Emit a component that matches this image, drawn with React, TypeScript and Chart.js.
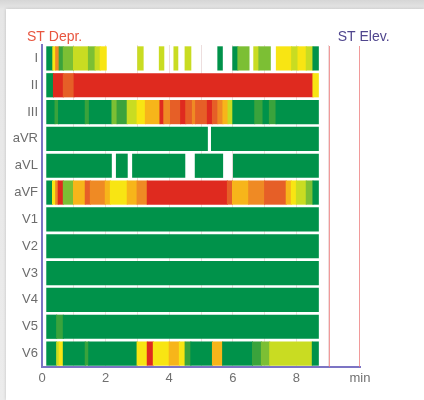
import React, { useEffect, useRef } from 'react';
import { Chart, registerables } from 'chart.js';

Chart.register(...registerables);

// Leads (rows, top to bottom)
const leads = ['I', 'II', 'III', 'aVR', 'aVL', 'aVF', 'V1', 'V2', 'V3', 'V4', 'V5', 'V6'];

// Colour per ST level: 0 = normal (green) ... 8 = strongest depression (red)
const levelColors = [
  '#00924a', // 0 green
  '#3aa33c', // 1 medium green
  '#7cbf34', // 2 light green
  '#c9dc22', // 3 yellow-green
  '#f8e513', // 4 yellow
  '#f7b51a', // 5 orange-yellow
  '#ef8a24', // 6 orange
  '#e65f27', // 7 dark orange
  '#df2a1f', // 8 red
];

// Segments per lead: [start min, end min, level]
const segI = [
  [0.15, 0.34, 0], [0.34, 0.43, 4], [0.43, 0.54, 6], [0.54, 0.67, 1], [0.67, 0.99, 2],
  [0.99, 1.46, 3], [1.46, 1.67, 2], [1.67, 1.83, 3], [1.83, 2.02, 4],
  [3.01, 3.18, 3], [3.69, 3.83, 3], [4.15, 4.27, 3], [4.50, 4.68, 3],
  [5.53, 5.67, 0], [6.00, 6.16, 0], [6.16, 6.51, 2], [6.66, 6.82, 3], [6.82, 7.18, 2],
  [7.37, 7.85, 4], [7.85, 8.05, 3], [8.05, 8.31, 4], [8.31, 8.52, 3], [8.52, 8.69, 0],
];
const segII = [
  [0.15, 0.36, 0], [0.36, 0.67, 8], [0.67, 1.01, 7], [1.01, 8.52, 8], [8.52, 8.69, 4],
];
const segIII = [
  [0.15, 0.41, 0], [0.41, 0.52, 1], [0.52, 1.36, 0], [1.36, 1.49, 1], [1.49, 2.20, 0],
  [2.20, 2.36, 2], [2.36, 2.68, 1], [2.68, 2.99, 3], [2.99, 3.25, 4], [3.25, 3.71, 5],
  [3.71, 3.83, 8], [3.83, 4.04, 6], [4.04, 4.36, 7], [4.36, 4.52, 8], [4.52, 4.73, 7],
  [4.73, 4.83, 6], [4.83, 5.20, 7], [5.20, 5.36, 8], [5.36, 5.53, 7], [5.53, 5.69, 6],
  [5.69, 5.85, 5], [5.85, 6.00, 3], [6.00, 6.69, 0], [6.69, 6.95, 1], [6.95, 7.15, 0],
  [7.15, 7.36, 1], [7.36, 8.69, 0],
];
const segAVR = [[0.15, 5.20, 0], [5.33, 8.69, 0]];
const segAVL = [[0.15, 2.18, 0], [2.34, 2.68, 0], [2.85, 4.49, 0], [4.82, 5.68, 0], [6.02, 8.69, 0]];
const segAVF = [
  [0.15, 0.33, 0], [0.33, 0.43, 4], [0.43, 0.51, 6], [0.51, 0.67, 8], [0.67, 0.99, 2],
  [0.99, 1.36, 5], [1.36, 1.52, 7], [1.52, 1.99, 6], [1.99, 2.15, 5], [2.15, 2.68, 4],
  [2.68, 2.99, 5], [2.99, 3.31, 6], [3.31, 5.83, 8], [5.83, 5.99, 7], [5.99, 6.50, 5],
  [6.50, 7.00, 6], [7.00, 7.68, 7], [7.68, 7.84, 5], [7.84, 8.00, 4], [8.00, 8.31, 3],
  [8.31, 8.52, 2], [8.52, 8.69, 0],
];
const segV1 = [[0.15, 8.69, 0]];
const segV2 = [[0.15, 8.69, 0]];
const segV3 = [[0.15, 8.69, 0]];
const segV4 = [[0.15, 8.69, 0]];
const segV5 = [[0.15, 0.46, 0], [0.46, 0.67, 1], [0.67, 8.69, 0]];
const segV6 = [
  [0.15, 0.46, 0], [0.46, 0.54, 3], [0.54, 0.67, 4], [0.67, 1.36, 0], [1.36, 1.47, 1],
  [1.47, 2.99, 0], [2.99, 3.31, 4], [3.31, 3.50, 8], [3.50, 4.00, 4], [4.00, 4.32, 5],
  [4.32, 4.50, 4], [4.50, 4.68, 1], [4.68, 5.36, 0], [5.36, 5.68, 5], [5.68, 6.62, 0],
  [6.62, 6.90, 1], [6.90, 7.16, 2], [7.16, 8.50, 3], [8.50, 8.69, 0],
];

const leadSegments = [segI, segII, segIII, segAVR, segAVL, segAVF, segV1, segV2, segV3, segV4, segV5, segV6];

// Axis
const xMin = 0;
const xMax = 10;
const axisUnitLabel = 'min';
// Vertical reference lines (minutes)
const markerLines = [9.05, 10];

const depressionLabel = 'ST Depr.';
const elevationLabel = 'ST Elev.';

const FONT = "'Liberation Sans', Arial, sans-serif";

export default function App() {
  const canvasRef = useRef<HTMLCanvasElement | null>(null);

  useEffect(() => {
    const canvas = canvasRef.current;
    if (!canvas) return;

    const data: any[] = [];
    const colors: string[] = [];
    leads.forEach((lead, i) => {
      leadSegments[i].forEach(([s, e, c]) => {
        data.push({ y: lead, x: [s, e] });
        colors.push(levelColors[c]);
      });
    });

    const overlay = {
      id: 'overlay',
      afterDatasetsDraw(chart: any) {
        const { ctx, chartArea, scales } = chart;
        ctx.save();
        ctx.strokeStyle = 'rgba(236,120,120,0.75)';
        ctx.lineWidth = 1;
        markerLines.forEach((v) => {
          const x = Math.round(scales.x.getPixelForValue(v)) - 0.5;
          ctx.beginPath();
          ctx.moveTo(x, chartArea.top + 1);
          ctx.lineTo(x, chartArea.bottom);
          ctx.stroke();
        });
        ctx.font = `14px ${FONT}`;
        ctx.textBaseline = 'middle';
        ctx.textAlign = 'left';
        ctx.fillStyle = '#e8553f';
        ctx.fillText(depressionLabel, chartArea.left - 15, 37);
        ctx.fillStyle = '#50468e';
        ctx.fillText(elevationLabel, scales.x.getPixelForValue(9.3), 37);
        ctx.restore();
      },
    };

    const chart = new Chart(canvas, {
      type: 'bar',
      data: {
        labels: leads,
        datasets: [
          {
            data,
            backgroundColor: colors,
            borderWidth: 0,
            inflateAmount: 0.5,
            categoryPercentage: 0.865,
            barPercentage: 1,
          } as any,
        ],
      },
      options: {
        indexAxis: 'y',
        responsive: false,
        animation: false,
        devicePixelRatio: 1,
        layout: { padding: { top: 45, right: 64, left: 0, bottom: 0 } },
        plugins: { legend: { display: false }, tooltip: { enabled: false }, title: { display: false } },
        scales: {
          x: {
            type: 'linear',
            min: xMin,
            max: xMax,
            ticks: {
              stepSize: 1,
              autoSkip: false,
              maxRotation: 0,
              padding: 4,
              color: '#707070',
              font: { family: FONT, size: 13 },
              callback: (v: any) => (v === xMax ? axisUnitLabel : v % 2 === 0 ? String(v) : ''),
            },
            grid: {
              color: (c: any) =>
                c.tick && (c.tick.value === xMax || c.tick.value === xMin) ? 'rgba(0,0,0,0)' : 'rgba(225,200,200,0.6)',
              lineWidth: 1,
              drawTicks: false,
            },
            border: { color: '#7c74c4', width: 2 },
            afterFit: (s: any) => {
              s.height = 33;
            },
          },
          y: {
            type: 'category',
            ticks: {
              padding: 4,
              color: '#6c6c6c',
              font: { family: FONT, size: 13 },
            },
            grid: { display: false, drawTicks: false },
            border: { color: '#7c74c4', width: 2 },
            afterFit: (s: any) => {
              s.width = 42;
            },
          },
        },
      },
      plugins: [overlay],
    } as any);

    return () => chart.destroy();
  }, []);

  return (
    <div
      style={{
        position: 'fixed',
        left: 0,
        top: 0,
        width: 424,
        height: 400,
        background: 'linear-gradient(#d6d6d6, #e6e6e6 9px, #ececec)',
        overflow: 'hidden',
      }}
    >
      <div
        style={{
          position: 'absolute',
          left: 6,
          top: 9,
          right: 0,
          bottom: 0,
          background: '#ffffff',
          boxShadow: '0 0 3px rgba(0,0,0,0.18)',
        }}
      />
      <canvas
        ref={canvasRef}
        width={424}
        height={400}
        style={{ position: 'absolute', left: 0, top: 0, width: 424, height: 400 }}
      />
    </div>
  );
}
